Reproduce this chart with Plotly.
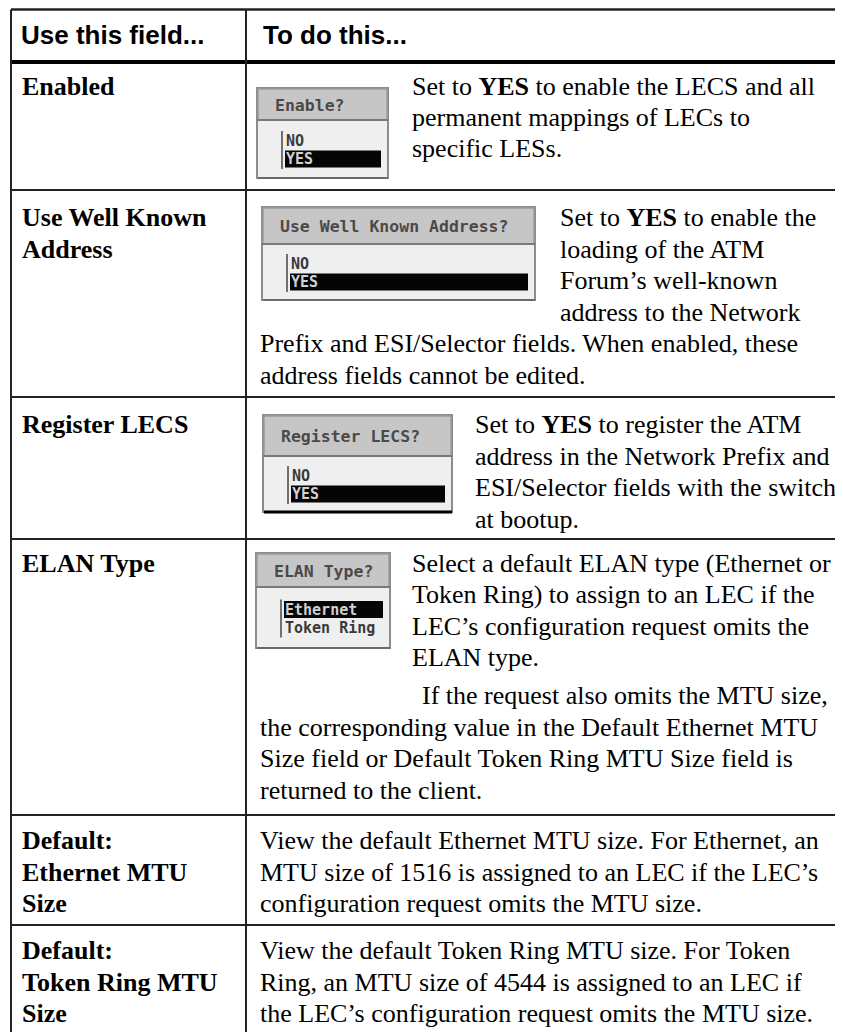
import plotly.graph_objects as go

W, H = 843, 1032
PAGE_MARGIN = 8  # default body margin of the written html page

# ---------------- content ----------------
header_labels = ["Use this field...", "To do this..."]

field_labels = [
    ["Enabled"],
    ["Use Well Known", "Address"],
    ["Register LECS"],
    ["ELAN Type"],
    ["Default:", "Ethernet MTU", "Size"],
    ["Default:", "Token Ring MTU", "Size"],
]

desc_lines = [
    ["Set to <b>YES</b> to enable the LECS and all",
     "permanent mappings of LECs to",
     "specific LESs."],
    ["Set to <b>YES</b> to enable the",
     "loading of the ATM",
     "Forum’s well-known",
     "address to the Network",
     "Prefix and ESI/Selector fields. When enabled, these",
     "address fields cannot be edited."],
    ["Set to <b>YES</b> to register the ATM",
     "address in the Network Prefix and",
     "ESI/Selector fields with the switch",
     "at bootup."],
    ["Select a default ELAN type (Ethernet or",
     "Token Ring) to assign to an LEC if the",
     "LEC’s configuration request omits the",
     "ELAN type.",
     "If the request also omits the MTU size,",
     "the corresponding value in the Default Ethernet MTU",
     "Size field or Default Token Ring MTU Size field is",
     "returned to the client."],
    ["View the default Ethernet MTU size. For Ethernet, an",
     "MTU size of 1516 is assigned to an LEC if the LEC’s",
     "configuration request omits the MTU size."],
    ["View the default Token Ring MTU size. For Token",
     "Ring, an MTU size of 4544 is assigned to an LEC if",
     "the LEC’s configuration request omits the MTU size."],
]

widget_titles = ["Enable?", "Use Well Known Address?", "Register LECS?", "ELAN Type?"]
widget_options = [["NO", "YES"], ["NO", "YES"], ["NO", "YES"], ["Ethernet", "Token Ring"]]
widget_selected = ["YES", "YES", "YES", "Ethernet"]

# ---------------- layout geometry (page pixels) ----------------
TOP = 9.5
HEAD_BOT = 62
LEFT = 11
DIV = 246
row_bounds = [64, 190, 397, 539, 815, 925, H]

label_x = 22
label_y = [[86], [217, 249], [424], [563], [840, 872, 903], [950, 982, 1013]]

desc_x = [
    [412, 412, 412],
    [560, 560, 560, 560, 260, 260],
    [475, 475, 475, 475],
    [412, 412, 412, 412, 422, 260, 260, 260],
    [260, 260, 260],
    [260, 260, 260],
]
desc_y = [
    [86, 117, 148],
    [217, 249, 280, 312, 343, 375],
    [424, 456, 487, 519],
    [563, 594, 626, 657, 695, 727, 758, 790],
    [840, 872, 903],
    [950, 982, 1013],
]

# widget boxes: x0, x1, y0, y_title_bottom, y1
widget_geom = [
    (257, 388, 88, 120, 178),
    (262, 535, 207, 244, 300),
    (263, 452, 415, 456, 512),
    (256, 390, 553, 587, 648),
]
widget_shadow = [False, False, True, False]

SERIF = "Liberation Serif, Times New Roman, Times, serif"
SANS = "Liberation Sans, Arial, Helvetica, sans-serif"
MONO = "DejaVu Sans Mono, Liberation Mono, monospace"

fig = go.Figure()
fig.add_trace(go.Scatter(x=[PAGE_MARGIN, W], y=[PAGE_MARGIN, H], mode="markers",
                         marker=dict(opacity=0), hoverinfo="skip", showlegend=False))

shapes = []
annotations = []

def line(x0, y0, x1, y1, w=2, c="#222222"):
    shapes.append(dict(type="line", x0=x0, y0=y0, x1=x1, y1=y1,
                       xref="x", yref="y", line=dict(color=c, width=w)))

def rect(x0, y0, x1, y1, fill, lc=None, lw=0):
    shapes.append(dict(type="rect", x0=x0, y0=y0, x1=x1, y1=y1, xref="x", yref="y",
                       fillcolor=fill, line=dict(color=lc or fill, width=lw), layer="above"))

def text(x, y, s, size, family, color="#000000", anchor="left"):
    annotations.append(dict(x=x, y=y, xref="x", yref="y", text=s, showarrow=False,
                            xanchor=anchor, yanchor="middle",
                            font=dict(size=size, family=family, color=color)))

# table lines
line(LEFT, TOP, W + 2, TOP, 2.5)
shapes.append(dict(type="rect", x0=LEFT, y0=HEAD_BOT - 2, x1=W + 2, y1=HEAD_BOT + 2,
                   xref="x", yref="y", fillcolor="#000000", line=dict(width=0)))
for yb in row_bounds[1:-1]:
    line(LEFT, yb, W + 2, yb, 2)
line(LEFT, TOP, LEFT, H + 2, 2)
line(DIV, TOP, DIV, H + 2, 2)

# header
text(19, 35, "<b>" + header_labels[0] + "</b>", 26, SANS)
text(261, 35, "<b>" + header_labels[1] + "</b>", 26, SANS)

# field labels
for labs, ys in zip(field_labels, label_y):
    for s, y in zip(labs, ys):
        text(label_x - 2, y, "<b>" + s + "</b>", 26, SERIF)

# descriptions
for lines_, xs, ys in zip(desc_lines, desc_x, desc_y):
    for s, x, y in zip(lines_, xs, ys):
        text(x - 2, y, s, 26, SERIF)

# widgets
for (x0, x1, y0, yt, y1), title, opts, sel, shadow in zip(
        widget_geom, widget_titles, widget_options, widget_selected, widget_shadow):
    rect(x0, y0, x1, y1, "#efefef", "#8c8c8c", 2)
    rect(x0 + 1, y0 + 1, x1 - 1, yt, "#c6c6c6", "#9a9a9a", 1.5)
    line(x0, yt, x1, yt, 2, "#7a7a7a")
    text(x0 + 16, (y0 + yt) / 2 + 1, "<b>" + title + "</b>", 16.5, MONO, "#4a4a4a")
    n = len(opts)
    step = 18
    ly0 = (yt + y1) / 2 - step * (n - 1) / 2 + 1
    vx = x0 + 25
    line(vx, ly0 - 10, vx, ly0 + step * (n - 1) + 10, 2, "#707070")
    for i, o in enumerate(opts):
        yy = ly0 + i * step
        if o == sel:
            rect(vx + 3, yy - 8.5, x1 - 7, yy + 8.5, "#050505")
            text(vx + 2, yy, "<b>" + o + "</b>", 15, MONO, "#d0d0d0")
        else:
            text(vx + 2, yy, "<b>" + o + "</b>", 15, MONO, "#3a3a3a")
    if shadow:
        line(x0 + 1, y1, x1, y1, 3, "#000000")
    else:
        line(x0 + 1, y1, x1, y1, 2, "#6a6a6a")

fig.update_layout(
    width=W - PAGE_MARGIN, height=H - PAGE_MARGIN,
    margin=dict(l=0, r=0, t=0, b=0, pad=0),
    paper_bgcolor="white", plot_bgcolor="white",
    xaxis=dict(range=[PAGE_MARGIN, W], visible=False, fixedrange=True),
    yaxis=dict(range=[H, PAGE_MARGIN], visible=False, fixedrange=True),
    shapes=shapes, annotations=annotations,
    showlegend=False,
)

fig.write_html("out.html")
